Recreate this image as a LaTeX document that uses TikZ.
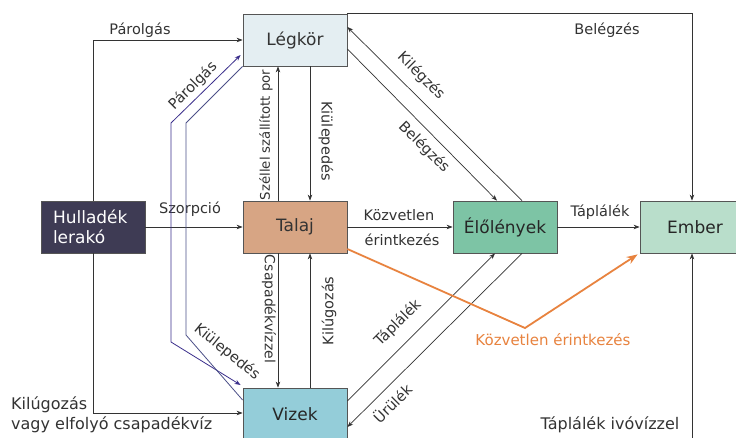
\documentclass[tikz,border=0pt]{standalone}
\usepackage{fontspec}
\setmainfont{DejaVu Sans}
\usetikzlibrary{arrows.meta,calc}

\definecolor{ink}{HTML}{333333}
\definecolor{edge}{HTML}{555555}
\definecolor{legkfill}{HTML}{E4EEF2}
\definecolor{talajfill}{HTML}{D7A584}
\definecolor{hullfill}{HTML}{3E3B54}
\definecolor{elofill}{HTML}{7DC4A5}
\definecolor{emberfill}{HTML}{B9DECB}
\definecolor{vizfill}{HTML}{94CDD9}
\definecolor{flowblue}{HTML}{3B2F8C}
\definecolor{flowblue2}{HTML}{4C5088}
\definecolor{contact}{HTML}{E8833F}

\tikzset{
  box/.style={draw=edge, line width=0.8pt, minimum width=104pt, minimum height=52pt,
    inner sep=0pt, text=ink, font=\fontsize{17}{20}\selectfont},
  arr/.style={draw=ink, line width=0.7pt, -{Stealth[length=6pt,width=4.5pt]}},
  plain/.style={draw=ink, line width=0.7pt},
  lbl/.style={text=ink, font=\fontsize{14.5}{17}\selectfont, inner sep=0pt},
  biglbl/.style={text=ink, font=\fontsize{16}{20}\selectfont, inner sep=0pt},
  bluearr/.style={draw=flowblue, line width=0.8pt,
    {Stealth[length=6pt,width=4.5pt]}-{Stealth[length=6pt,width=4.5pt]}},
  blueline/.style={draw=flowblue2, line width=0.8pt},
  contactarr/.style={draw=contact, line width=1.8pt, -{Stealth[length=11pt,width=8pt]}}
}

\begin{document}
\begin{tikzpicture}[x=1pt,y=-1pt]
\useasboundingbox (0,0) rectangle (736,437);
\clip (0,0) rectangle (736,437);
\fill[white] (0,0) rectangle (736,437);

% compartments
\node[box, fill=legkfill] (legkor) at (295,40) {Légkör};
\node[box, fill=talajfill] (talaj) at (295,227) {Talaj};
\node[box, fill=hullfill, text=white, align=left, text width=80pt] (hull) at (93,227)
  {Hulladék\\lerakó};
\node[box, fill=elofill, text=black!85] (elo) at (505,227) {Élőlények};
\node[box, fill=emberfill, minimum width=110pt, text=black!85] (ember) at (695,227) {Ember};
\node[box, fill=vizfill, text=black!85] (vizek) at (295,414) {Vizek};

% free ends and bends
\coordinate (drink) at (692,440);
\coordinate (bend) at (525,328);
\coordinate (bupper) at (171,123);
\coordinate (blower) at (171,342);
\coordinate (iupper) at (186,123);
\coordinate (ilower) at (186,335);

% landfill outputs
\draw[arr] (hull.north) |- (legkor.west);
\node[lbl] (lpar) at (140,30) {Párolgás};
\draw[arr] (hull.east) -- (talaj.west);
\node[lbl] (lszor) at (190,209) {Szorpció};
\draw[arr] (hull.south) |- ($(vizek.west)+(0,-1)$);
\node[biglbl, anchor=west, align=left] (lkil) at (11,415)
  {Kilúgozás\\vagy elfolyó csapadékvíz};

% atmosphere
\draw[arr] (legkor.north east) -| ($(ember.north)+(-3,0)$);
\node[lbl] (lbel1) at (607,30) {Belégzés};
\draw[arr] ($(elo.north)+(17,0)$) -- ($(legkor.east)+(0,-13)$);
\node[lbl, rotate=-45] (lkile) at (421,76) {Kilégzés};
\draw[arr] ($(legkor.east)+(0,9)$) -- ($(elo.north)+(-8,0)$);
\node[lbl, rotate=-45] (lbel2) at (424,147) {Belégzés};
\draw[arr] ($(legkor.south)+(15,0)$) -- ($(talaj.north)+(15,0)$);
\node[lbl, rotate=-90] (lkiul) at (326,141) {Kiülepedés};
\draw[arr] ($(talaj.north)+(-17,0)$) -- ($(legkor.south)+(-17,0)$);
\node[lbl, rotate=90, font=\fontsize{13.3}{16}\selectfont] (lszel) at (266,135) {Széllel szállított por};

% soil and water
\draw[arr] ($(talaj.south)+(-17,0)$) -- ($(vizek.north)+(-17,0)$);
\node[lbl, rotate=-90, font=\fontsize{14}{16}\selectfont] (lcsap) at (269,309) {Csapadékvízzel};
\draw[arr] ($(vizek.north)+(15,0)$) -- ($(talaj.south)+(15,0)$);
\node[lbl, rotate=90] (lkilu) at (329,311) {Kilúgozás};

% evaporation and deposition between water and air
\draw[bluearr] ($(vizek.west)+(-2,-29)$) -- (blower) -- (bupper) -- ($(legkor.west)+(-2,15)$);
\draw[blueline] (legkor.south west) -- (iupper) -- (ilower) -- ($(vizek.west)+(0,-14)$);
\node[lbl, rotate=45] (lpar2) at (193,86) {Párolgás};
\node[lbl, rotate=-39] (lkiul2) at (227,352) {Kiülepedés};

% living things
\draw[arr] (talaj.east) -- (elo.west);
\node[lbl] (lkoz1) at (399,215) {Közvetlen};
\node[lbl] (lkoz2) at (402,240) {érintkezés};
\draw[arr] (elo.east) -- (ember.west);
\node[lbl] (ltap) at (600,212) {Táplálék};
\draw[arr] ($(vizek.east)+(0,-13)$) -- ($(elo.south)+(-10,0)$);
\node[lbl, rotate=45] (ltap2) at (398,323) {Táplálék};
\draw[arr] ($(elo.south)+(17,0)$) -- ($(vizek.east)+(0,13)$);
\node[lbl, rotate=45] (lurul) at (392,403) {Ürülék};

% direct contact with soil
\draw[contactarr] ($(talaj.east)+(0,22)$) -- (bend) -- ($(ember.south west)+(-2,1)$);
\node[lbl, text=contact, font=\fontsize{15}{18}\selectfont] (lkoz3) at (553,340) {Közvetlen érintkezés};

% drinking water
\draw[arr] (drink) -- ($(ember.south)+(-3,0)$);
\node[biglbl] (livo) at (610,425) {Táplálék ivóvízzel};
\end{tikzpicture}
\end{document}
